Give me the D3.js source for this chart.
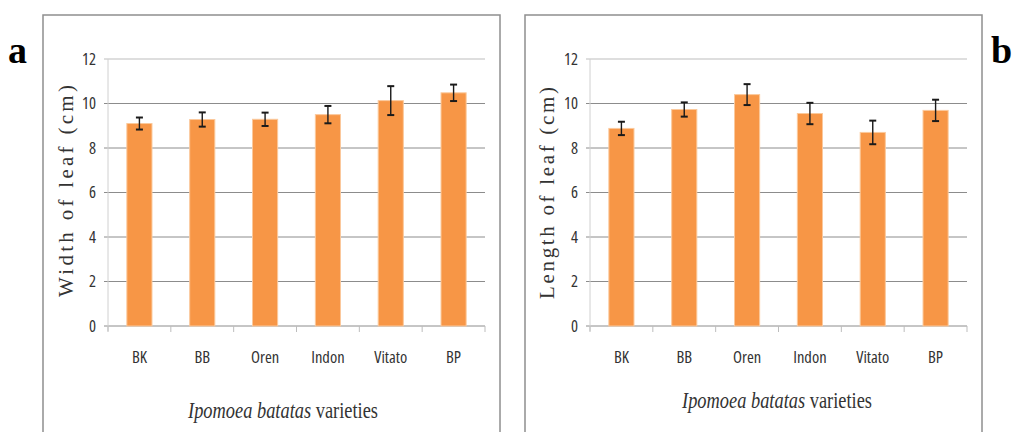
<!DOCTYPE html>
<html>
<head>
<meta charset="utf-8">
<script src="https://cdn.jsdelivr.net/npm/d3@7"></script>
<style>
  body { margin: 0; background: #fff; }
  svg { display: block; }
</style>
</head>
<body>
<div id="chart"></div>
<script>
const varieties = ['BK', 'BB', 'Oren', 'Indon', 'Vitato', 'BP']
const yTicks = [0, 2, 4, 6, 8, 10, 12]

const widthMeans = [9.1, 9.28, 9.29, 9.5, 10.13, 10.48]
const widthErrors = [0.27, 0.32, 0.3, 0.39, 0.65, 0.37]

const lengthMeans = [8.88, 9.73, 10.4, 9.55, 8.7, 9.69]
const lengthErrors = [0.3, 0.32, 0.47, 0.48, 0.53, 0.48]

const labelFont = "'Open Sans'"
const serifFont = "'Liberation Serif'"

const svg = d3
  .select('#chart')
  .append('svg')
  .attr('width', 1015)
  .attr('height', 432)

const plotWidth = 377
const plotTop = 59
const plotBottom = 326

const yPositionScale = d3
  .scaleLinear()
  .domain([0, 12])
  .range([plotBottom, plotTop])

const xPositionScale = d3
  .scaleBand()
  .domain(varieties)
  .range([0, plotWidth])
  .paddingInner(0.6)
  .paddingOuter(0.3)

function drawPanel(opts) {
  // outer frame
  svg
    .append('rect')
    .attr('x', opts.frameX)
    .attr('y', 15)
    .attr('width', 457)
    .attr('height', 440)
    .attr('fill', 'none')
    .attr('stroke', '#8f8f8f')
    .attr('stroke-width', 1.5)

  const g = svg.append('g').attr('transform', 'translate(' + opts.left + ',0)')

  // horizontal grid lines
  g.selectAll('.grid')
    .data(yTicks)
    .enter()
    .append('line')
    .attr('x1', -4)
    .attr('x2', plotWidth)
    .attr('y1', d => yPositionScale(d))
    .attr('y2', d => yPositionScale(d))
    .attr('stroke', d => (d === 12 ? '#bdbdbd' : '#8c8c8c'))
    .attr('stroke-width', 1)

  // y axis line
  g.append('line')
    .attr('x1', 0)
    .attr('x2', 0)
    .attr('y1', plotTop)
    .attr('y2', plotBottom + 5)
    .attr('stroke', '#d0d0d0')

  // ticks under x axis at band boundaries
  const boundaries = d3.range(varieties.length + 1).map(i => i * plotWidth / varieties.length)
  g.selectAll('.xtick')
    .data(boundaries)
    .enter()
    .append('line')
    .attr('x1', d => d)
    .attr('x2', d => d)
    .attr('y1', plotBottom)
    .attr('y2', plotBottom + 6)
    .attr('stroke', '#bdbdbd')

  // y tick labels
  const yAxis = d3.axisLeft(yPositionScale).tickValues(yTicks).tickSize(0).tickPadding(12)
  const ya = g.append('g').call(yAxis)
  ya.select('.domain').remove()
  ya.attr('font-family', labelFont).attr('font-size', 16.5).attr('font-stretch', 'condensed')
  ya.selectAll('text').attr('fill', '#333')

  // category labels
  const xAxis = d3.axisBottom(xPositionScale).tickSize(0).tickPadding(25)
  const xa = g.append('g').attr('transform', 'translate(0,' + plotBottom + ')').call(xAxis)
  xa.select('.domain').remove()
  xa.attr('font-family', labelFont).attr('font-size', 16.5).attr('font-stretch', 'condensed')
  xa.selectAll('text').attr('fill', '#333')

  // bars
  g.selectAll('.bar')
    .data(opts.means)
    .enter()
    .append('rect')
    .attr('x', (d, i) => xPositionScale(varieties[i]))
    .attr('width', xPositionScale.bandwidth())
    .attr('y', d => yPositionScale(d))
    .attr('height', d => plotBottom - yPositionScale(d))
    .attr('fill', '#f79646')
    .attr('stroke', '#fbc99c')
    .attr('stroke-width', 1)

  // error bars
  const errs = opts.means.map((m, i) => ({ m: m, e: opts.errors[i], c: xPositionScale(varieties[i]) + xPositionScale.bandwidth() / 2 }))
  const eb = g.selectAll('.err').data(errs).enter().append('g').attr('stroke', '#1a1a1a').attr('stroke-width', 1.4)
  eb.append('line')
    .attr('x1', d => d.c).attr('x2', d => d.c)
    .attr('y1', d => yPositionScale(d.m + d.e)).attr('y2', d => yPositionScale(d.m - d.e))
  eb.append('line')
    .attr('x1', d => d.c - 3.5).attr('x2', d => d.c + 3.5)
    .attr('y1', d => yPositionScale(d.m + d.e)).attr('y2', d => yPositionScale(d.m + d.e))
    .attr('stroke-width', 2)
  eb.append('line')
    .attr('x1', d => d.c - 3.5).attr('x2', d => d.c + 3.5)
    .attr('y1', d => yPositionScale(d.m - d.e)).attr('y2', d => yPositionScale(d.m - d.e))
    .attr('stroke-width', 2)

  // y axis title
  svg.append('text')
    .attr('font-family', serifFont)
    .attr('fill', '#333')
    .attr('transform', 'translate(' + opts.titleX + ',' + opts.titleY + ') rotate(-90)')
    .attr('text-anchor', 'middle')
    .attr('dominant-baseline', 'central')
    .attr('font-size', 21)
    .attr('textLength', 212)
    .attr('lengthAdjust', 'spacing')
    .text(opts.yTitle)

  // x axis title, squeezed horizontally like the original
  const xt = svg.append('text')
    .attr('font-family', serifFont)
    .attr('fill', '#333')
    .attr('transform', 'translate(' + opts.xTitleX + ',' + opts.xTitleY + ') scale(0.8,1)')
    .attr('text-anchor', 'middle')
    .attr('font-size', 23)
  xt.append('tspan').attr('font-style', 'italic').text('Ipomoea batatas')
  xt.append('tspan').text(' varieties')

  // panel letter
  svg.append('text')
    .attr('x', opts.letterX)
    .attr('y', 63)
    .attr('font-family', serifFont)
    .attr('font-weight', 'bold')
    .attr('font-size', 38)
    .attr('fill', '#000')
    .text(opts.letter)
}

drawPanel({
  frameX: 43, left: 108, means: widthMeans, errors: widthErrors,
  yTitle: 'Width of  leaf (cm)', titleX: 66, titleY: 191,
  xTitleX: 283, xTitleY: 418,
  letter: 'a', letterX: 8
})

drawPanel({
  frameX: 525, left: 590, means: lengthMeans, errors: lengthErrors,
  yTitle: 'Length of leaf (cm)', titleX: 547, titleY: 193,
  xTitleX: 777, xTitleY: 408,
  letter: 'b', letterX: 991
})
</script>
</body>
</html>
